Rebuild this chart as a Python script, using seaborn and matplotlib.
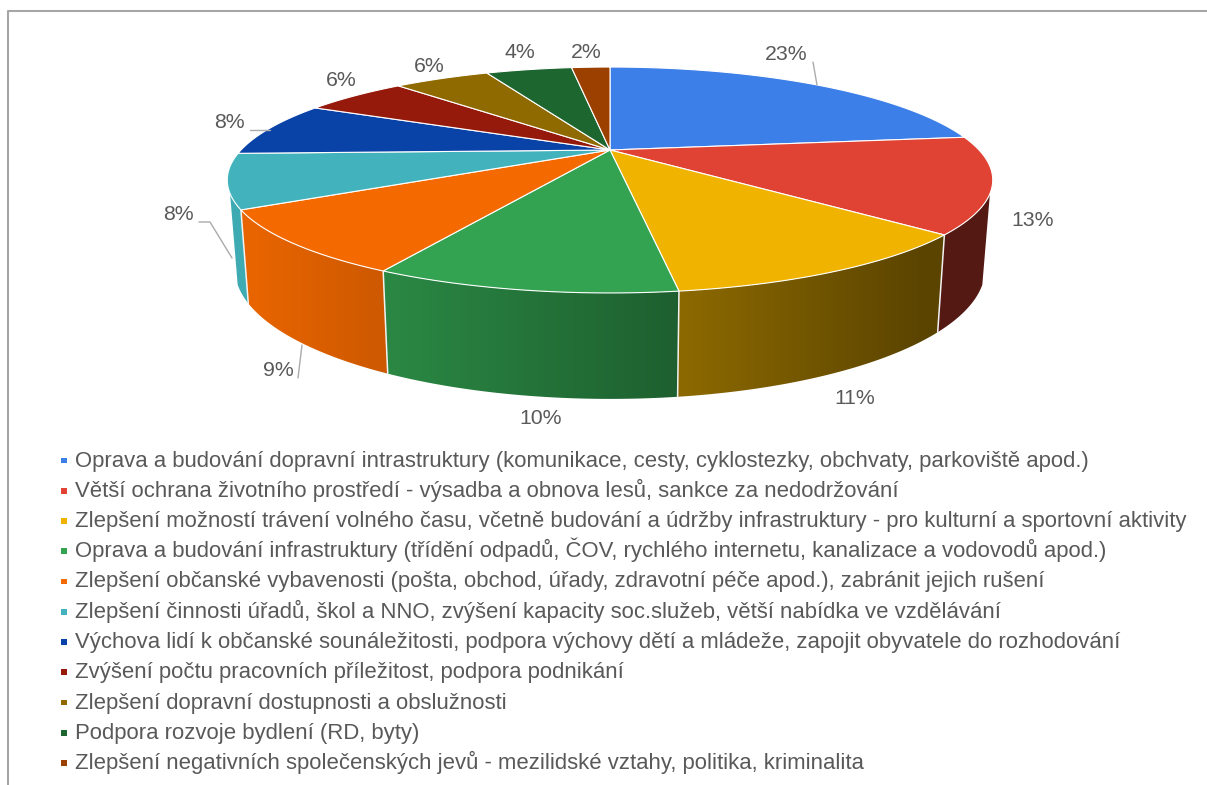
"""
Kolac 3D - priority rozvoje (podily odpovedi).
"""
import numpy as np
import matplotlib
matplotlib.use("Agg")
import matplotlib.pyplot as plt
from matplotlib.colors import to_rgb
from matplotlib.patches import Polygon
import seaborn as sns

categories = [
    "Oprava a budování dopravní intrastruktury (komunikace, cesty, cyklostezky, obchvaty, parkoviště apod.)",
    "Větší ochrana životního prostředí - výsadba a obnova lesů, sankce za nedodržování",
    "Zlepšení možností trávení volného času, včetně budování a údržby infrastruktury - pro kulturní a sportovní aktivity",
    "Oprava a budování infrastruktury (třídění odpadů, ČOV, rychlého internetu, kanalizace a vodovodů apod.)",
    "Zlepšení občanské vybavenosti (pošta, obchod, úřady, zdravotní péče apod.), zabránit jejich rušení",
    "Zlepšení činnosti úřadů, škol a NNO, zvýšení kapacity soc.služeb, větší nabídka ve vzdělávání",
    "Výchova lidí k občanské sounáležitosti, podpora výchovy dětí a mládeže, zapojit obyvatele do rozhodování",
    "Zvýšení počtu pracovních příležitost, podpora podnikání",
    "Zlepšení dopravní dostupnosti a obslužnosti",
    "Podpora rozvoje bydlení (RD, byty)",
    "Zlepšení negativních společenských jevů - mezilidské vztahy, politika, kriminalita",
]
shares = [23.0, 13.6, 11.2, 10.0, 8.95, 7.75, 7.9, 5.6, 5.2, 4.7, 2.1]
pct_labels = ["23%", "13%", "11%", "10%", "9%", "8%", "8%", "6%", "6%", "4%", "2%"]
colors = ["#3d7fe8", "#e04333", "#f0b400", "#33a351", "#f56a00", "#42b3bc",
          "#0a43a8", "#961a0c", "#8f6a00", "#1e6630", "#9c4000"]

# pozice popisku v pixelech
label_pos = [(786, 54), (1033, 221), (855, 399), (541, 419), (278, 371), (178, 215),
             (229, 122), (341, 80), (429, 66), (520, 52), (586, 52)]
leaders = [
    [(813, 62), (817, 85)],
    [(298, 378), (302, 345)],
    [(199, 222), (210, 222), (232, 258)],
    [(250, 130), (270, 130)],
]

CX, CY = 610, 150
RX, RY, PERSP = 369, 105, 0.2655
TEXT = "#595959"


def rim(t):
    # perspektiva: bod na kruznici -> pixely
    u, v = np.sin(t), np.cos(t)
    d = 1 + PERSP * v
    return CX + RX * u / d, CY - RY * v / d


def lower(x, y):
    # spodni hrana valce
    return CX + (x - CX) * 0.98, y * 1.15 + 62


def shade(x):
    return np.clip(0.95 - (x - 250) * 0.00085, 0.38, 0.95)


def draw_walls(ax, edges, palette):
    lo, hi = np.radians(112), np.radians(248)
    for i, col in enumerate(palette):
        a, b = max(edges[i], lo), min(edges[i + 1], hi)
        if a >= b:
            continue
        ts = np.linspace(a, b, 80)
        xs, ys = rim(ts)
        xb, yb = lower(xs, ys)
        px = np.r_[xs, xb[::-1]]
        py = np.r_[ys, yb[::-1]]
        # vodorovny gradient oriznuty na tvar steny
        left, right = px.min() - 1, px.max() + 1
        cols = np.arange(left, right, 1.0)
        grad = shade(cols)[None, :, None] * np.array(to_rgb(col))[None, None, :]
        im = ax.imshow(grad, extent=(left, right, py.max() + 1, py.min() - 1),
                       aspect="auto", interpolation="bilinear", zorder=2)
        poly = Polygon(np.c_[px, py], closed=True, transform=ax.transData, fc="none", ec="none")
        ax.add_patch(poly)
        im.set_clip_path(poly)
    # bile predely mezi stenami
    for t in edges[2:6]:
        x, y = rim(t)
        xb, yb = lower(x, y)
        ax.plot([x, xb], [y, yb], color="#f2f2f2", lw=1.1, zorder=3)


def draw_top(ax, edges, palette):
    for i, col in enumerate(palette):
        ts = np.linspace(edges[i], edges[i + 1], 80)
        xs, ys = rim(ts)
        ax.fill(np.r_[CX, xs], np.r_[CY, ys], facecolor=col, edgecolor="white", lw=0.8, zorder=4)


def main():
    sns.set_theme(style="white")
    plt.rcParams["font.family"] = ["Liberation Sans", "DejaVu Sans"]
    palette = sns.color_palette(colors)

    fig, ax = plt.subplots(figsize=(12.07, 7.85), dpi=100)
    fig.subplots_adjust(0, 0, 1, 1)

    edges = np.radians(np.r_[0, np.cumsum(shares)] / sum(shares) * 360)
    draw_walls(ax, edges, palette)
    draw_top(ax, edges, palette)

    for pts in leaders:
        ax.plot(*zip(*pts), color="#ababab", lw=1, zorder=5)
    for txt, (x, y) in zip(pct_labels, label_pos):
        ax.text(x, y, txt, ha="center", va="center", fontsize=15.3, color=TEXT, zorder=6)

    # ramecek vlevo a nahore
    ax.plot([7.5, 7.5, 1207], [785, 11, 11], color="#a6a6a6", lw=1.5, zorder=1)

    # legenda - radky s pevnym rozestupem
    rows = 466.5 + 30.25 * np.arange(len(categories))
    sns.scatterplot(x=np.full(len(categories), 64.0), y=rows - 6, hue=categories,
                    palette=list(palette), marker="s", s=18, linewidth=0, legend=False, ax=ax, zorder=6)
    for txt, y in zip(categories, rows):
        ax.text(75, y, txt, ha="left", va="baseline", fontsize=15.9, color=TEXT, zorder=6)

    ax.set_xlim(0, 1207)
    ax.set_ylim(785, 0)
    ax.axis("off")

    fig.savefig("out.png", dpi=100)
    plt.close(fig)


if __name__ == "__main__":
    main()
